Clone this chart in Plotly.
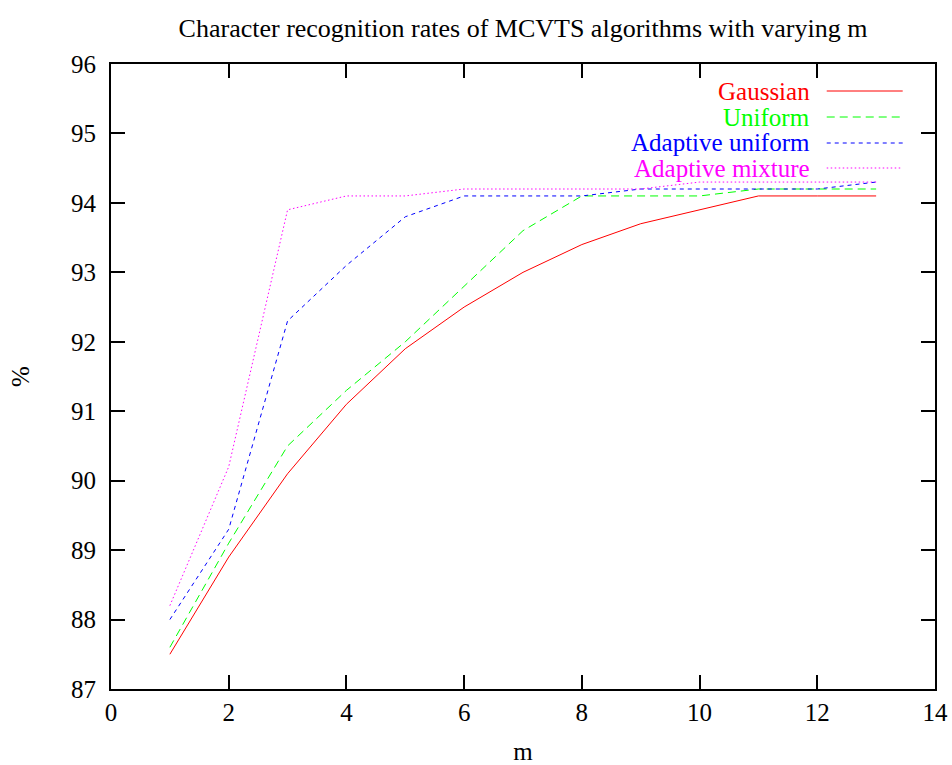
import plotly.graph_objects as go

m = list(range(1, 14))
gaussian = [87.5, 88.9, 90.1, 91.1, 91.9, 92.5, 93.0, 93.4, 93.7, 93.9, 94.1, 94.1, 94.1]
uniform = [87.6, 89.1, 90.5, 91.3, 92.0, 92.8, 93.6, 94.1, 94.1, 94.1, 94.2, 94.2, 94.2]
adaptive_uniform = [88.0, 89.3, 92.3, 93.1, 93.8, 94.1, 94.1, 94.1, 94.2, 94.2, 94.2, 94.2, 94.3]
adaptive_mixture = [88.2, 90.2, 93.9, 94.1, 94.1, 94.2, 94.2, 94.2, 94.2, 94.3, 94.3, 94.3, 94.3]

series_names = ["Gaussian", "Uniform", "Adaptive uniform", "Adaptive mixture"]
series_values = [gaussian, uniform, adaptive_uniform, adaptive_mixture]
colors = ["#ff0000", "#00ff00", "#0000ff", "#ff00ff"]
dashes = ["solid", "8px,5px", "4px,4px", "1.5px,2.5px"]

x_ticks = [0, 2, 4, 6, 8, 10, 12, 14]
y_ticks = [87, 88, 89, 90, 91, 92, 93, 94, 95, 96]

FONT = "Liberation Serif"

fig = go.Figure()
for name, vals, c, d in zip(series_names, series_values, colors, dashes):
    fig.add_trace(go.Scatter(x=m, y=vals, mode="lines", name=name,
                             line=dict(color=c, width=1, dash=d),
                             showlegend=False))

# legend built manually (text right-aligned, sample on right, gnuplot style)
leg_y = [0.9568, 0.9152, 0.8736, 0.8336]
for name, c, d, yy in zip(series_names, colors, dashes, leg_y):
    fig.add_annotation(xref="paper", yref="paper", x=0.851, y=yy,
                       text=name, showarrow=False, xanchor="right", yanchor="middle",
                       font=dict(family=FONT, size=25, color=c))
    fig.add_shape(type="line", xref="paper", yref="paper",
                  x0=0.8686, x1=0.9608, y0=yy, y1=yy,
                  line=dict(color=c, width=1, dash=d))

axis_common = dict(showline=True, linecolor="black", linewidth=2, mirror="allticks",
                   ticks="inside", ticklen=14, tickwidth=2, tickcolor="black",
                   showgrid=False, zeroline=False, automargin=False,
                   tickfont=dict(family=FONT, size=25, color="black"))

fig.update_xaxes(range=[0, 14], tickvals=x_ticks, ticktext=[str(v) for v in x_ticks],
                 title=dict(text="m", font=dict(family=FONT, size=25, color="black"), standoff=22),
                 **axis_common)
fig.update_yaxes(range=[87, 96], tickvals=y_ticks, ticktext=[str(v) for v in y_ticks],
                 title=dict(text="%", font=dict(family=FONT, size=25, color="black"), standoff=34),
                 ticklabelstandoff=8,
                 **axis_common)

fig.update_layout(
    width=952, height=765,
    margin=dict(l=111, r=17, t=64, b=76, autoexpand=False),
    paper_bgcolor="white", plot_bgcolor="white",
    title=dict(text="Character recognition rates of MCVTS algorithms with varying m",
               x=0.5494, xanchor="center", y=0.963, yanchor="middle",
               font=dict(family=FONT, size=26, color="black")),
    font=dict(family=FONT),
)

fig.write_html("out.html")
